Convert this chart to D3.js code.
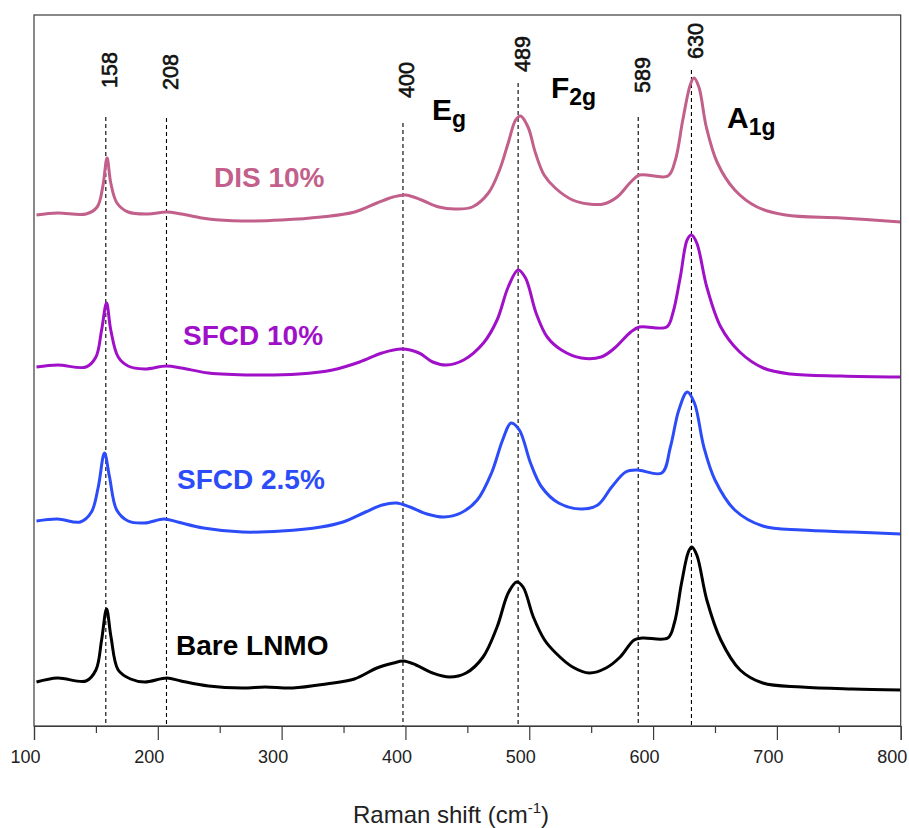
<!DOCTYPE html>
<html><head><meta charset="utf-8">
<script src="https://cdn.jsdelivr.net/npm/d3@7"></script>
<style>body{margin:0;background:#fff}svg{display:block}</style>
</head><body>
<svg id="chart" width="909" height="828"></svg>
<script>
// ---------- data ----------
const xTicks = [100, 200, 300, 400, 500, 600, 700, 800];
const xMinorTicks = [150, 250, 350, 450, 550, 650, 750];

const seriesNames = ["DIS 10%", "SFCD 10%", "SFCD 2.5%", "Bare LNMO"];

// Raman shift (cm-1) / stacked intensity (a.u.)
const disShift = [102,119,142,151,155.5,159,162,167,176,192,207,219,241,268,300,332,359,377,390,400,413,427,440,454,467,476,483,489,493,499,505,512,521,535,548,560,571,582,589,612,618,624,630,633,637,643,652,666,684,707,752,800];
const disInt   = [511,513,512,519,539,568,543,523,514,512,514,512,507,505,506,509,514,523,529,531,526,519,517,519,533,556,583,606,610,599,573,551,538,526,522,522,529,544,551,550,566,606,641,648,639,599,563,536,519,511,508,504];

const sfcd10Shift = [102,119,142,150,154.6,158.6,162,168,176,189,207,219,241,277,314,341,363,381,397,411,422,433,447,463,474,483,491,497,505.5,514.5,526,542,558,569,582,589,611,616,622,627.5,631,635.3,643.4,654.7,670,689,711,752,800];
const sfcd10Int   = [359,361,359,369,396,423,396,369,360,357,360,358,353,351,352,356,364,373,377,373,364,361,366,383,406,439,456,448,413,389,376,368,369,378,394,399,399,413,449,486,491,483,439,399,374,358,352,350,349];

const sfcd25Shift = [102,119,137.4,146.4,151.9,156.9,161,166.8,176,189.4,205,216,236.8,268.4,300,331.7,349.6,367.8,381.3,392.7,403.7,417.4,431,444.7,458,469.5,478.5,485.3,492,501,510,523.7,541.8,555.3,566.6,577.9,587,607,614,620.8,627.6,633.4,641,650,666,688.6,720,760.7,800];
const sfcd25Int   = [205,207,204,214,239,273,249,216,205,203,207,204,198,194,195,199,204,214,221,223,219,212,209,213,226,253,286,303,296,263,239,223,217,221,239,254,256,253,279,316,334,323,279,246,216,200,196,194,192];

const bareShift = [102,119,142,150,154.6,158.6,162.2,168,178,189.4,207.4,218.7,241,268.4,286.6,309,336,358.8,377,390.4,398.5,408.5,422,435.6,449,462.7,474,483,489.8,495,503.3,512.4,521.4,535,548.5,562,573.4,584.7,591.4,611.8,617.2,623,628.5,631.2,635.3,643.4,654.7,670.3,688.6,720,760.7,800];
const bareInt   = [44,48,45,56,86,117,89,56,47,44,48,45,40,38,39,38,42,47,58,63,65,61,53,49,53,69,99,133,144,139,109,86,73,59,53,58,69,86,88,88,103,143,174,179,171,126,86,56,43,39,37,36];

const peakPositions = [158, 207, 398, 491, 588, 631];
const peakLabels = ["158", "208", "400", "489", "589", "630"];

const modeBase = ["E", "F", "A"];
const modeSub = ["g", "2g", "1g"];

// ---------- layout / style ----------
const L = 34, R = 900.7, T = 15, B = 726;
const FONT = "Liberation Sans, Arial, sans-serif";
const colors = ["#c2608b", "#a010c8", "#2b4cf8", "#000000"];
const seriesLabelPos = [[214, 187], [183, 345], [177, 489], [176, 655]];
const peakLineTop = [117, 118, 123, 83, 117, 70];
const peakLabelBottom = [88, 90, 98, 72, 93, 59];
const modePos = [[432, 120], [551, 98], [727, 128]];

const svg = d3.select("#chart");
const x = d3.scaleLinear().domain([100, 800]).range([L, R]);
const y = d3.scaleLinear().domain([0, 711]).range([B, T]);

svg.append("defs").append("clipPath").attr("id", "clip")
  .append("rect").attr("x", L).attr("y", T).attr("width", R - L).attr("height", B - T);

// peak dashed lines + labels
peakPositions.forEach((p, i) => {
  svg.append("line")
    .attr("x1", x(p)).attr("x2", x(p))
    .attr("y1", peakLineTop[i]).attr("y2", B)
    .attr("stroke", "#000").attr("stroke-width", 1.1)
    .attr("stroke-dasharray", "4,3");
  svg.append("text")
    .attr("transform", `translate(${x(p) + 4.5},${peakLabelBottom[i]}) rotate(-90)`)
    .attr("dominant-baseline", "central")
    .attr("font-family", FONT)
    .attr("font-size", 21.5)
    .attr("fill", "#111").attr("stroke", "#111").attr("stroke-width", 0.6)
    .text(peakLabels[i]);
});

// spectra
const series = [
  [disShift, disInt], [sfcd10Shift, sfcd10Int], [sfcd25Shift, sfcd25Int], [bareShift, bareInt]
];
const line = d3.line().x(d => x(d[0])).y(d => y(d[1])).curve(d3.curveCatmullRom.alpha(0.5));
series.forEach(([xs, ys], i) => {
  const pts = xs.map((v, k) => [v, ys[k]]);
  svg.append("path")
    .attr("clip-path", "url(#clip)")
    .attr("d", line(pts))
    .attr("fill", "none")
    .attr("stroke", colors[i])
    .attr("stroke-width", 3)
    .attr("stroke-linejoin", "round");
  svg.append("text")
    .attr("x", seriesLabelPos[i][0]).attr("y", seriesLabelPos[i][1])
    .attr("font-family", FONT)
    .attr("font-weight", "bold").attr("font-size", 28)
    .attr("fill", colors[i])
    .text(seriesNames[i]);
});

// mode labels
modeBase.forEach((b, i) => {
  const t = svg.append("text")
    .attr("x", modePos[i][0]).attr("y", modePos[i][1])
    .attr("font-family", FONT)
    .attr("font-weight", "bold").attr("fill", "#000");
  t.append("tspan").attr("font-size", 30).text(b);
  t.append("tspan").attr("font-size", 23).attr("dy", 7).text(modeSub[i]);
});

// frame
svg.append("rect").attr("x", L).attr("y", T).attr("width", R - L).attr("height", B - T)
  .attr("fill", "none").attr("stroke", "#3a3a3a").attr("stroke-width", 1.2);

// x axis
const ax = svg.append("g").attr("transform", `translate(0,${B})`)
  .call(d3.axisBottom(x).tickValues(xTicks).tickSize(14).tickFormat(d3.format("d")));
ax.select(".domain").attr("stroke", "#3a3a3a").attr("stroke-width", 1.2);
ax.selectAll(".tick line").attr("stroke", "#3a3a3a").attr("stroke-width", 1.2);
ax.selectAll(".tick text")
  .attr("y", 37).attr("dy", 0).attr("dx", -9)
  .attr("font-family", FONT)
  .attr("font-size", 18).attr("fill", "#222");
const axm = svg.append("g").attr("transform", `translate(0,${B})`)
  .call(d3.axisBottom(x).tickValues(xMinorTicks).tickSize(7).tickFormat(""));
axm.select(".domain").remove();
axm.selectAll(".tick line").attr("stroke", "#3a3a3a").attr("stroke-width", 1.2);

// axis title
const title = svg.append("text")
  .attr("x", 451).attr("y", 823)
  .attr("text-anchor", "middle")
  .attr("font-family", FONT)
  .attr("font-size", 24).attr("fill", "#222");
title.append("tspan").text("Raman shift (cm");
title.append("tspan").attr("font-size", 15).attr("dy", -10).text("-1");
title.append("tspan").attr("dy", 10).text(")");
</script>
</body></html>
